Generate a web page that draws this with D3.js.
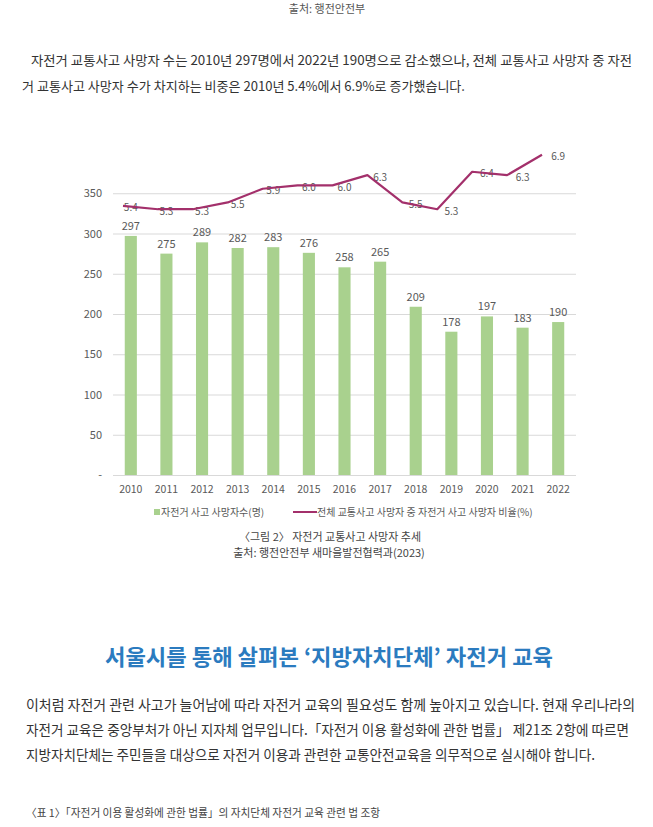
<!DOCTYPE html>
<html>
<head>
<meta charset="utf-8">
<script src="https://cdn.jsdelivr.net/npm/d3@7"></script>
<style>
  body { margin: 0; background: #fff; }
  svg text { font-family: "Noto Sans CJK KR", "Noto Sans", sans-serif; }
</style>
</head>
<body>
<div id="chart"></div>
<script>
// data
var years = ["2010", "2011", "2012", "2013", "2014", "2015", "2016",
             "2017", "2018", "2019", "2020", "2021", "2022"];
var deaths = [297, 275, 289, 282, 283, 276, 258, 265, 209, 178, 197, 183, 190];
var share = [5.4, 5.3, 5.3, 5.5, 5.9, 6.0, 6.0, 6.3, 5.5, 5.3, 6.4, 6.3, 6.9];
var yTicks = [0, 50, 100, 150, 200, 250, 300, 350];
var legendLabels = ["자전거 사고 사망자수(명)", "전체 교통사고 사망자 중 자전거 사고 사망자 비율(%)"];

var intro = [
  "자전거 교통사고 사망자 수는 2010년 297명에서 2022년 190명으로 감소했으나, 전체 교통사고 사망자 중 자전",
  "거 교통사고 사망자 수가 차지하는 비중은 2010년 5.4%에서 6.9%로 증가했습니다."
];
var body = [
  "이처럼 자전거 관련 사고가 늘어남에 따라 자전거 교육의 필요성도 함께 높아지고 있습니다. 현재 우리나라의",
  "자전거 교육은 중앙부처가 아닌 지자체 업무입니다.「자전거 이용 활성화에 관한 법률」 제21조 2항에 따르면",
  "지방자치단체는 주민들을 대상으로 자전거 이용과 관련한 교통안전교육을 의무적으로 실시해야 합니다."
];

var W = 653, H = 827;
var barColor = "#a9d18e", lineColor = "#a3306b", textGrey = "#595959";

var svg = d3.select("#chart").append("svg")
  .attr("width", W).attr("height", H);

// page text
svg.append("text").attr("x", 327).attr("y", 13)
  .attr("text-anchor", "middle").style("font-size", "11px").style("fill", "#555")
  .text("출처: 행전안전부");

var introX = [31, 22], introLen = [601, 443];
intro.forEach(function(t, i) {
  svg.append("text").attr("x", introX[i]).attr("y", 65 + i * 26)
    .attr("textLength", introLen[i]).attr("lengthAdjust", "spacingAndGlyphs")
    .style("font-size", "13px").style("fill", "#333")
    .text(t);
});

// chart
var x = d3.scaleBand().domain(years).range([113, 576])
  .paddingInner(0.66).paddingOuter(0.33);
var y = d3.scaleLinear().domain([0, 400]).range([475, 153]);
// hidden secondary axis for the share line
var y2 = d3.scaleLinear().domain([-2.5, 6.95]).range([475, 153]);
var xLine = d3.scalePoint().domain(years).range([123, 542]);

var g = svg.append("g");

g.selectAll(".grid").data(yTicks).enter().append("line")
  .attr("x1", 113).attr("x2", 576)
  .attr("y1", function(d) { return y(d) + 0.5; })
  .attr("y2", function(d) { return y(d) + 0.5; })
  .style("stroke", "#d9d9d9").style("stroke-width", 1);

g.selectAll(".ylab").data(yTicks).enter().append("text")
  .attr("x", 102).attr("y", function(d) { return y(d) + 4; })
  .attr("text-anchor", "end").style("font-size", "11px").style("fill", textGrey)
  .text(function(d) { return d === 0 ? "-" : d; });

g.selectAll(".bar").data(deaths).enter().append("rect")
  .attr("x", function(d, i) { return x(years[i]); })
  .attr("width", x.bandwidth())
  .attr("y", function(d) { return y(d); })
  .attr("height", function(d) { return y(0) - y(d); })
  .style("fill", barColor);

g.selectAll(".barlab").data(deaths).enter().append("text")
  .attr("x", function(d, i) { return x(years[i]) + x.bandwidth() / 2; })
  .attr("y", function(d) { return y(d) - 6; })
  .attr("text-anchor", "middle").style("font-size", "11px").style("fill", textGrey)
  .text(function(d) { return d; });

g.selectAll(".xlab").data(years).enter().append("text")
  .attr("x", function(d) { return x(d) + x.bandwidth() / 2; })
  .attr("y", 493)
  .attr("text-anchor", "middle").style("font-size", "10.5px").style("fill", textGrey)
  .text(function(d) { return d; });

g.selectAll(".linelab").data(share).enter().append("text")
  .attr("x", function(d, i) { return x(years[i]) + x.bandwidth() / 2; })
  .attr("y", function(d) { return y2(d) + 5.5; })
  .attr("text-anchor", "middle").style("font-size", "10px").style("fill", textGrey)
  .text(function(d) { return d.toFixed(1); });

var line = d3.line()
  .x(function(d, i) { return xLine(years[i]); })
  .y(function(d) { return y2(d); });

g.append("path").datum(share)
  .attr("d", line)
  .style("fill", "none").style("stroke", lineColor).style("stroke-width", 2.2)
  .style("stroke-linejoin", "round");

// legend
var lg = svg.append("g");
lg.append("rect").attr("x", 154).attr("y", 509).attr("width", 6).attr("height", 6)
  .style("fill", barColor);
lg.append("text").attr("x", 161).attr("y", 516)
  .style("font-size", "10px").style("fill", textGrey).text(legendLabels[0]);
lg.append("line").attr("x1", 293).attr("x2", 317).attr("y1", 512).attr("y2", 512)
  .style("stroke", lineColor).style("stroke-width", 2);
lg.append("text").attr("x", 317).attr("y", 516)
  .style("font-size", "10px").style("fill", textGrey).text(legendLabels[1]);

// captions
svg.append("text").attr("x", 330).attr("y", 541)
  .attr("text-anchor", "middle").style("font-size", "11px").style("fill", "#444")
  .text("〈그림 2〉 자전거 교통사고 사망자 추세");
svg.append("text").attr("x", 329).attr("y", 557)
  .attr("text-anchor", "middle").style("font-size", "11px").style("fill", "#444")
  .text("출처: 행전안전부 새마을발전협력과(2023)");

svg.append("text").attr("x", 329).attr("y", 665)
  .attr("text-anchor", "middle").attr("textLength", 448).attr("lengthAdjust", "spacingAndGlyphs")
  .style("font-size", "22px").style("font-weight", "bold").style("fill", "#2b7bbf")
  .text("서울시를 통해 살펴본 ‘지방자치단체’ 자전거 교육");

var bodyLen = [609, 603, 569];
body.forEach(function(t, i) {
  svg.append("text").attr("x", 26).attr("y", 710 + i * 25)
    .attr("textLength", bodyLen[i]).attr("lengthAdjust", "spacingAndGlyphs")
    .style("font-size", "14px").style("fill", "#333")
    .text(t);
});

svg.append("text").attr("x", 26).attr("y", 817)
  .attr("textLength", 354).attr("lengthAdjust", "spacingAndGlyphs")
  .style("font-size", "11px").style("fill", "#444")
  .text("〈표 1〉「자전거 이용 활성화에 관한 법률」의 자치단체 자전거 교육 관련 법 조항");
</script>
</body>
</html>
